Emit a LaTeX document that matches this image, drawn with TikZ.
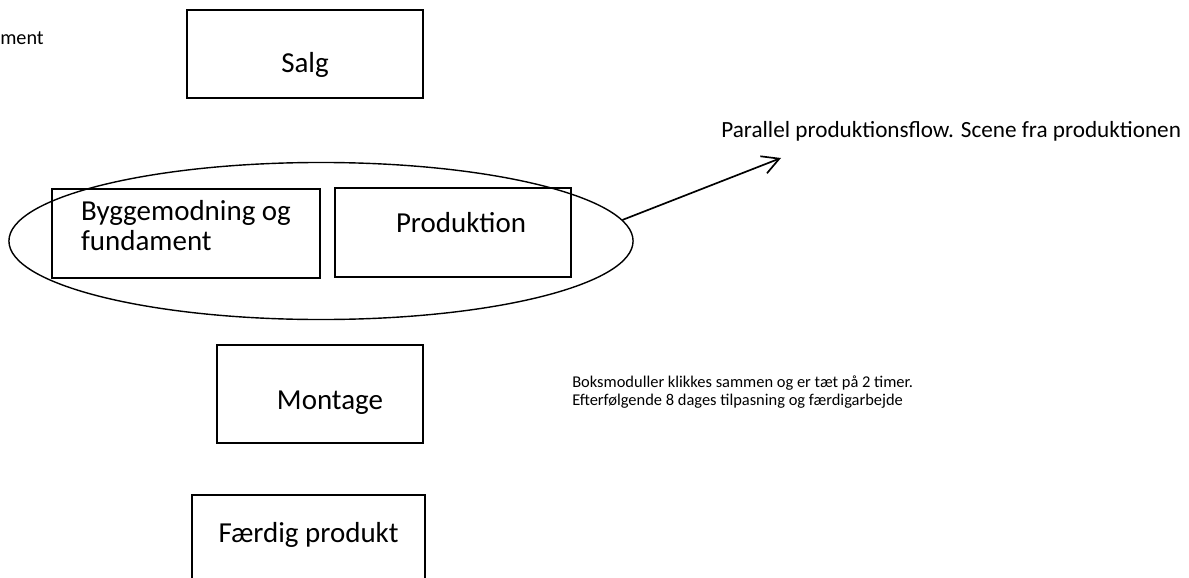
\documentclass[tikz,border=0pt]{standalone}
\usepackage{fontspec}
\setmainfont{Carlito}
\usetikzlibrary{shapes.geometric,arrows.meta}

\tikzset{
  boks/.style={draw, line width=1.3pt, inner sep=0pt,
    font=\fontsize{20.6}{21.3}\selectfont},
  note/.style={inner sep=0pt, anchor=base west},
}

\begin{document}
\begin{tikzpicture}[x=0.025cm,y=-0.025cm]
\useasboundingbox (0,0) rectangle (1189,578);
\clip (0,0) rectangle (1189,578);

    % boxes
    \node[boks, minimum width=5.9cm, minimum height=2.2cm,
      text height=0.9cm, text depth=0cm] (salg) at (305,54) {Salg};
    \node[boks, minimum width=6.7cm, minimum height=2.225cm, align=left,
      text height=0.825cm, text depth=0cm] (bygg) at (186,233.5)
      {Byggemodning og\\fundament};
    \node[boks, minimum width=5.9cm, minimum height=2.225cm,
      text height=0.5cm, text depth=0.5cm] (prod) at (453,232.5)
      {\kern0.4cm Produktion};
    \node[boks, minimum width=5.15cm, minimum height=2.45cm,
      text height=0.75cm, text depth=0cm] (montage) at (320,394)
      {\kern0.5cm Montage};
    \node[boks, minimum width=5.825cm, minimum height=2.45cm,
      text height=0.5cm, text depth=0.6cm] (faerdig) at (308.5,544)
      {F\ae rdig produkt};

    % ellipse round the parallel steps
    \node[draw, ellipse, line width=1pt, minimum width=15.6cm,
      minimum height=3.925cm] (ovl) at (321,241) {};

    % arrow
    \coordinate (tip) at (781,158);
    \draw[line width=1.2pt, -{Straight Barb[length=12pt,width=13pt]}]
      (ovl.4) -- (tip);

    % notes
    \node[note, font=\fontsize{14.4}{16}\selectfont] (ment) at (0,45) {ment};
    \node[note, font=\fontsize{16.5}{19}\selectfont] (flow) at (721,137)
      {Parallel produktionsflow. Scene fra produktionen};
    \node[note, align=left, font=\fontsize{11.7}{12.76}\selectfont] (boksmod)
      at (572,405) {Boksmoduller klikkes sammen og er tæt på 2 timer.\\
      Efterfølgende 8 dages tilpasning og færdigarbejde};

\end{tikzpicture}
\end{document}
